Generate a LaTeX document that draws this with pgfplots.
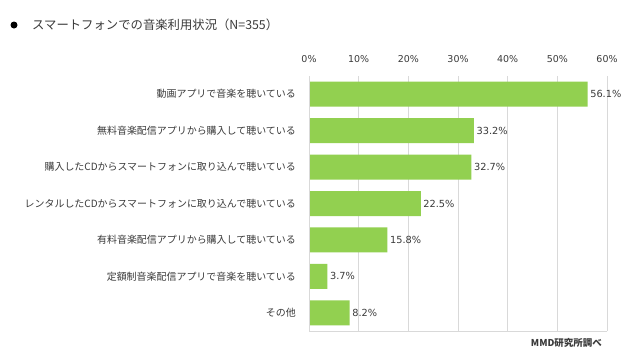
\documentclass[border=0pt]{standalone}
\usepackage{pgfplots}
\pgfplotsset{compat=1.18}
\usepackage{fontspec}
\setmainfont{Noto Sans CJK JP}
\newfontfamily\numfont{DejaVu Sans}
\definecolor{bargreen}{HTML}{92D050}
\definecolor{txt}{HTML}{3A3A3A}
\definecolor{gridc}{HTML}{D9D9D9}
\begin{document}
\begin{tikzpicture}[x=1bp,y=1bp]
\path[use as bounding box, fill=white] (0,0) rectangle (640,-356);
\fill[black] (14,-25) circle (3.5);
\node[anchor=west, font=\fontsize{12.4}{14}\selectfont, text=txt, inner sep=0pt] at (32,-25) {スマートフォンでの音楽利用状況（N=355）};
\begin{axis}[
  at={(309bp,-76bp)}, anchor=north west,
  scale only axis, width=298bp, height=255bp,
  xbar, bar width=25bp,
  xmin=0, xmax=60, ymin=0.5, ymax=7.5,
  xtick={0,10,...,60},
  xticklabel={\pgfmathprintnumber{\tick}\%},
  xticklabel pos=upper,
  ytick={1,...,7},
  yticklabels={その他,定額制音楽配信アプリで音楽を聴いている,有料音楽配信アプリから購入して聴いている,レンタルしたCDからスマートフォンに取り込んで聴いている,購入したCDからスマートフォンに取り込んで聴いている,無料音楽配信アプリから購入して聴いている,動画アプリで音楽を聴いている},
  axis line style={draw=none},
  major tick length=0pt,
  xmajorgrids, grid style={gridc, line width=0.8bp},
  /pgf/number format/assume math mode=true,
  tick label style={font=\fontsize{10}{12}\selectfont, text=txt},
  xticklabel style={inner sep=0pt, yshift=13bp, font=\fontsize{9.5}{12}\selectfont\numfont},
  yticklabel style={inner sep=0pt, xshift=-13bp},
  nodes near coords={\pgfmathprintnumber[fixed,fixed zerofill,precision=1]{\pgfplotspointmeta}\%},
  point meta=x,
  nodes near coords style={anchor=west, font=\fontsize{9.8}{12}\selectfont\numfont, text=txt, inner sep=2.5pt, /pgf/number format/assume math mode=true},
  clip=false,
]
\addplot[fill=bargreen, draw=none] coordinates {(8.2,1) (3.7,2) (15.8,3) (22.5,4) (32.7,5) (33.2,6) (56.1,7)};
\draw[gridc, line width=0.8bp] (axis cs:0,7.5) -- (axis cs:0,0.5) -- (axis cs:60,0.5);
\end{axis}
\node[anchor=east, font=\fontsize{9.5}{11}\selectfont\bfseries, text=txt, inner sep=0pt] at (602,-343) {MMD研究所調べ};
\end{tikzpicture}
\end{document}
